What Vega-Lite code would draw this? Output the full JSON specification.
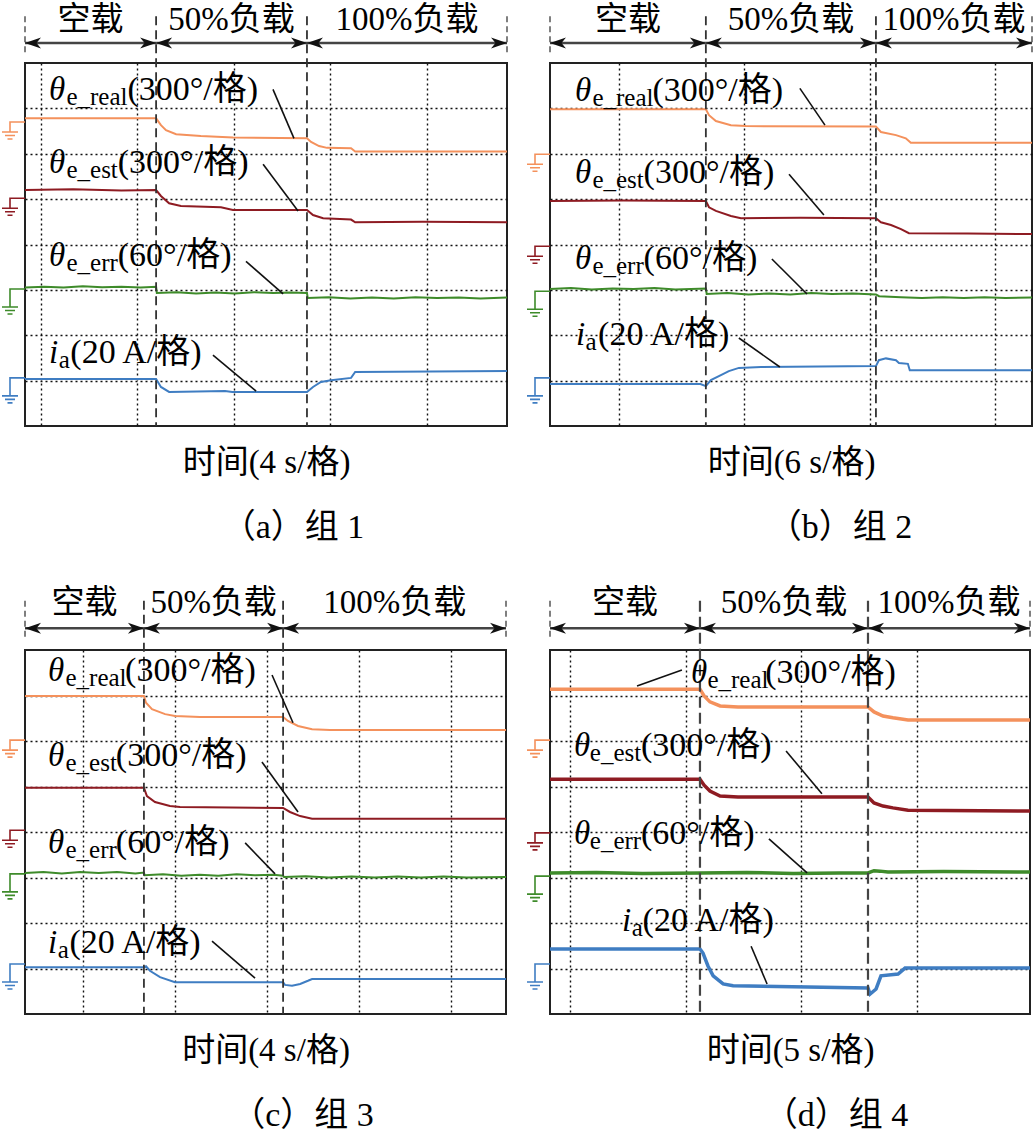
{
"$schema": "https://vega.github.io/schema/vega-lite/v6.json",
"padding": {"left": -3, "top": 3, "right": 0, "bottom": 0},
"background": "white",
"config": {
 "view": {"stroke": "#222", "strokeWidth": 2},
 "axis": {"gridColor": "#111", "gridDash": [2, 3], "gridWidth": 1.4, "gridOpacity": 1, "titleFont": "Liberation Serif, Noto Sans CJK SC", "titleFontSize": 33, "titleFontWeight": "normal", "titleColor": "#000", "titlePadding": 20},
 "axisY": {"minExtent": 0},
 "title": {"font": "Liberation Serif, Noto Sans CJK SC", "fontSize": 34, "fontWeight": "normal", "color": "#000", "orient": "bottom", "anchor": "middle", "offset": 32}
},
"datasets": {
 "tr": [
  {"p":"a","ch":"real","t":0,"d":6.78},{"p":"a","ch":"real","t":5.44,"d":6.78},{"p":"a","ch":"real","t":5.64,"d":6.63},{"p":"a","ch":"real","t":5.85,"d":6.52},{"p":"a","ch":"real","t":6.27,"d":6.43},{"p":"a","ch":"real","t":7.3,"d":6.39},{"p":"a","ch":"real","t":8.63,"d":6.36},{"p":"a","ch":"real","t":11.7,"d":6.34},{"p":"a","ch":"real","t":11.87,"d":6.26},{"p":"a","ch":"real","t":12.2,"d":6.17},{"p":"a","ch":"real","t":12.53,"d":6.13},{"p":"a","ch":"real","t":13.53,"d":6.12},{"p":"a","ch":"real","t":13.7,"d":6.05},{"p":"a","ch":"real","t":20,"d":6.05},
  {"p":"a","ch":"est","t":0,"d":5.2},{"p":"a","ch":"est","t":2.0,"d":5.22},{"p":"a","ch":"est","t":4.0,"d":5.19},{"p":"a","ch":"est","t":5.44,"d":5.2},{"p":"a","ch":"est","t":5.64,"d":5.07},{"p":"a","ch":"est","t":5.98,"d":4.91},{"p":"a","ch":"est","t":6.47,"d":4.85},{"p":"a","ch":"est","t":8.13,"d":4.82},{"p":"a","ch":"est","t":8.63,"d":4.76},{"p":"a","ch":"est","t":11.7,"d":4.76},{"p":"a","ch":"est","t":11.95,"d":4.65},{"p":"a","ch":"est","t":12.37,"d":4.58},{"p":"a","ch":"est","t":13.53,"d":4.55},{"p":"a","ch":"est","t":13.7,"d":4.49},{"p":"a","ch":"est","t":16.5,"d":4.5},{"p":"a","ch":"est","t":20,"d":4.49},
  {"p":"a","ch":"err","t":0,"d":3.05},{"p":"a","ch":"err","t":0.8,"d":3.07},{"p":"a","ch":"err","t":1.6,"d":3.05},{"p":"a","ch":"err","t":2.4,"d":3.08},{"p":"a","ch":"err","t":3.2,"d":3.06},{"p":"a","ch":"err","t":4.0,"d":3.07},{"p":"a","ch":"err","t":4.8,"d":3.05},{"p":"a","ch":"err","t":5.44,"d":3.07},{"p":"a","ch":"err","t":5.47,"d":2.93},{"p":"a","ch":"err","t":6.3,"d":2.95},{"p":"a","ch":"err","t":7.1,"d":2.92},{"p":"a","ch":"err","t":7.9,"d":2.94},{"p":"a","ch":"err","t":8.7,"d":2.92},{"p":"a","ch":"err","t":9.5,"d":2.95},{"p":"a","ch":"err","t":10.3,"d":2.93},{"p":"a","ch":"err","t":11.0,"d":2.94},{"p":"a","ch":"err","t":11.7,"d":2.93},{"p":"a","ch":"err","t":11.73,"d":2.82},{"p":"a","ch":"err","t":12.6,"d":2.84},{"p":"a","ch":"err","t":13.5,"d":2.81},{"p":"a","ch":"err","t":14.4,"d":2.83},{"p":"a","ch":"err","t":15.3,"d":2.81},{"p":"a","ch":"err","t":16.2,"d":2.84},{"p":"a","ch":"err","t":17.1,"d":2.82},{"p":"a","ch":"err","t":18.0,"d":2.83},{"p":"a","ch":"err","t":18.9,"d":2.81},{"p":"a","ch":"err","t":20,"d":2.83},
  {"p":"a","ch":"ia","t":0,"d":1.035},{"p":"a","ch":"ia","t":5.44,"d":1.035},{"p":"a","ch":"ia","t":5.64,"d":0.86},{"p":"a","ch":"ia","t":5.98,"d":0.75},{"p":"a","ch":"ia","t":8.3,"d":0.77},{"p":"a","ch":"ia","t":8.6,"d":0.75},{"p":"a","ch":"ia","t":11.7,"d":0.75},{"p":"a","ch":"ia","t":11.95,"d":0.86},{"p":"a","ch":"ia","t":12.28,"d":0.97},{"p":"a","ch":"ia","t":12.7,"d":1.01},{"p":"a","ch":"ia","t":13.53,"d":1.06},{"p":"a","ch":"ia","t":13.7,"d":1.19},{"p":"a","ch":"ia","t":20,"d":1.21},

  {"p":"b","ch":"real","t":0,"d":6.98},{"p":"b","ch":"real","t":7.46,"d":6.98},{"p":"b","ch":"real","t":7.61,"d":6.85},{"p":"b","ch":"real","t":7.94,"d":6.72},{"p":"b","ch":"real","t":8.66,"d":6.63},{"p":"b","ch":"real","t":9.38,"d":6.61},{"p":"b","ch":"real","t":15.6,"d":6.6},{"p":"b","ch":"real","t":15.84,"d":6.48},{"p":"b","ch":"real","t":16.56,"d":6.41},{"p":"b","ch":"real","t":17.03,"d":6.34},{"p":"b","ch":"real","t":17.27,"d":6.24},{"p":"b","ch":"real","t":23.07,"d":6.24},
  {"p":"b","ch":"est","t":0,"d":4.96},{"p":"b","ch":"est","t":3.5,"d":4.97},{"p":"b","ch":"est","t":7.46,"d":4.96},{"p":"b","ch":"est","t":7.61,"d":4.82},{"p":"b","ch":"est","t":7.94,"d":4.74},{"p":"b","ch":"est","t":8.66,"d":4.63},{"p":"b","ch":"est","t":9.14,"d":4.58},{"p":"b","ch":"est","t":12,"d":4.59},{"p":"b","ch":"est","t":15.6,"d":4.58},{"p":"b","ch":"est","t":15.84,"d":4.49},{"p":"b","ch":"est","t":16.32,"d":4.43},{"p":"b","ch":"est","t":16.8,"d":4.34},{"p":"b","ch":"est","t":17.18,"d":4.25},{"p":"b","ch":"est","t":20,"d":4.24},{"p":"b","ch":"est","t":23.07,"d":4.23},
  {"p":"b","ch":"err","t":0,"d":3.02},{"p":"b","ch":"err","t":1,"d":3.04},{"p":"b","ch":"err","t":2,"d":3.01},{"p":"b","ch":"err","t":3,"d":3.03},{"p":"b","ch":"err","t":4,"d":3.02},{"p":"b","ch":"err","t":5,"d":3.04},{"p":"b","ch":"err","t":6,"d":3.01},{"p":"b","ch":"err","t":7.46,"d":3.03},{"p":"b","ch":"err","t":7.5,"d":2.91},{"p":"b","ch":"err","t":8.5,"d":2.93},{"p":"b","ch":"err","t":9.5,"d":2.9},{"p":"b","ch":"err","t":10.5,"d":2.92},{"p":"b","ch":"err","t":11.5,"d":2.9},{"p":"b","ch":"err","t":12.5,"d":2.93},{"p":"b","ch":"err","t":13.5,"d":2.91},{"p":"b","ch":"err","t":14.5,"d":2.92},{"p":"b","ch":"err","t":15.6,"d":2.9},{"p":"b","ch":"err","t":15.75,"d":2.86},{"p":"b","ch":"err","t":16.8,"d":2.84},{"p":"b","ch":"err","t":17.8,"d":2.82},{"p":"b","ch":"err","t":18.8,"d":2.84},{"p":"b","ch":"err","t":19.8,"d":2.82},{"p":"b","ch":"err","t":20.8,"d":2.84},{"p":"b","ch":"err","t":21.8,"d":2.82},{"p":"b","ch":"err","t":23.07,"d":2.83},
  {"p":"b","ch":"ia","t":0,"d":0.925},{"p":"b","ch":"ia","t":7.2,"d":0.925},{"p":"b","ch":"ia","t":7.46,"d":0.88},{"p":"b","ch":"ia","t":7.7,"d":1.01},{"p":"b","ch":"ia","t":8.18,"d":1.12},{"p":"b","ch":"ia","t":8.56,"d":1.21},{"p":"b","ch":"ia","t":9.04,"d":1.28},{"p":"b","ch":"ia","t":10.1,"d":1.3},{"p":"b","ch":"ia","t":15.6,"d":1.32},{"p":"b","ch":"ia","t":15.74,"d":1.45},{"p":"b","ch":"ia","t":16.08,"d":1.49},{"p":"b","ch":"ia","t":16.56,"d":1.45},{"p":"b","ch":"ia","t":16.7,"d":1.39},{"p":"b","ch":"ia","t":17.13,"d":1.37},{"p":"b","ch":"ia","t":17.22,"d":1.23},{"p":"b","ch":"ia","t":23.07,"d":1.23},

  {"p":"c","ch":"real","t":0,"d":6.99},{"p":"c","ch":"real","t":5.17,"d":6.99},{"p":"c","ch":"real","t":5.26,"d":6.84},{"p":"c","ch":"real","t":5.52,"d":6.7},{"p":"c","ch":"real","t":6.09,"d":6.59},{"p":"c","ch":"real","t":6.52,"d":6.55},{"p":"c","ch":"real","t":7.6,"d":6.53},{"p":"c","ch":"real","t":11.22,"d":6.53},{"p":"c","ch":"real","t":11.43,"d":6.44},{"p":"c","ch":"real","t":11.87,"d":6.33},{"p":"c","ch":"real","t":12.48,"d":6.26},{"p":"c","ch":"real","t":13.26,"d":6.24},{"p":"c","ch":"real","t":20.91,"d":6.24},
  {"p":"c","ch":"est","t":0,"d":4.97},{"p":"c","ch":"est","t":5.17,"d":4.97},{"p":"c","ch":"est","t":5.3,"d":4.79},{"p":"c","ch":"est","t":5.65,"d":4.66},{"p":"c","ch":"est","t":6.3,"d":4.57},{"p":"c","ch":"est","t":6.74,"d":4.55},{"p":"c","ch":"est","t":11.22,"d":4.53},{"p":"c","ch":"est","t":11.52,"d":4.44},{"p":"c","ch":"est","t":11.96,"d":4.35},{"p":"c","ch":"est","t":12.48,"d":4.29},{"p":"c","ch":"est","t":20.91,"d":4.29},
  {"p":"c","ch":"err","t":0,"d":3.1},{"p":"c","ch":"err","t":0.8,"d":3.12},{"p":"c","ch":"err","t":1.6,"d":3.09},{"p":"c","ch":"err","t":2.4,"d":3.12},{"p":"c","ch":"err","t":3.2,"d":3.1},{"p":"c","ch":"err","t":4.0,"d":3.12},{"p":"c","ch":"err","t":4.8,"d":3.09},{"p":"c","ch":"err","t":5.17,"d":3.11},{"p":"c","ch":"err","t":5.2,"d":3.05},{"p":"c","ch":"err","t":6.0,"d":3.07},{"p":"c","ch":"err","t":6.8,"d":3.04},{"p":"c","ch":"err","t":7.6,"d":3.06},{"p":"c","ch":"err","t":8.4,"d":3.04},{"p":"c","ch":"err","t":9.2,"d":3.07},{"p":"c","ch":"err","t":10,"d":3.05},{"p":"c","ch":"err","t":10.8,"d":3.06},{"p":"c","ch":"err","t":11.22,"d":3.04},{"p":"c","ch":"err","t":11.26,"d":3.01},{"p":"c","ch":"err","t":12.2,"d":3.03},{"p":"c","ch":"err","t":13.2,"d":3.0},{"p":"c","ch":"err","t":14.2,"d":3.02},{"p":"c","ch":"err","t":15.2,"d":3.0},{"p":"c","ch":"err","t":16.2,"d":3.02},{"p":"c","ch":"err","t":17.2,"d":3.0},{"p":"c","ch":"err","t":18.2,"d":3.02},{"p":"c","ch":"err","t":19.2,"d":3.0},{"p":"c","ch":"err","t":20.91,"d":3.01},
  {"p":"c","ch":"ia","t":0,"d":1.03},{"p":"c","ch":"ia","t":5.17,"d":1.03},{"p":"c","ch":"ia","t":5.26,"d":1.05},{"p":"c","ch":"ia","t":5.43,"d":0.95},{"p":"c","ch":"ia","t":5.87,"d":0.81},{"p":"c","ch":"ia","t":6.52,"d":0.7},{"p":"c","ch":"ia","t":11.22,"d":0.7},{"p":"c","ch":"ia","t":11.3,"d":0.64},{"p":"c","ch":"ia","t":11.61,"d":0.62},{"p":"c","ch":"ia","t":11.96,"d":0.66},{"p":"c","ch":"ia","t":12.3,"d":0.73},{"p":"c","ch":"ia","t":12.48,"d":0.77},{"p":"c","ch":"ia","t":20.91,"d":0.77},

  {"p":"d","ch":"real","t":0,"d":7.14},{"p":"d","ch":"real","t":6.48,"d":7.14},{"p":"d","ch":"real","t":6.66,"d":6.99},{"p":"d","ch":"real","t":6.91,"d":6.86},{"p":"d","ch":"real","t":7.35,"d":6.77},{"p":"d","ch":"real","t":8.12,"d":6.75},{"p":"d","ch":"real","t":13.74,"d":6.75},{"p":"d","ch":"real","t":14.0,"d":6.64},{"p":"d","ch":"real","t":14.39,"d":6.55},{"p":"d","ch":"real","t":14.82,"d":6.51},{"p":"d","ch":"real","t":15.47,"d":6.46},{"p":"d","ch":"real","t":20.74,"d":6.46},
  {"p":"d","ch":"est","t":0,"d":5.16},{"p":"d","ch":"est","t":6.48,"d":5.16},{"p":"d","ch":"est","t":6.66,"d":5.03},{"p":"d","ch":"est","t":6.91,"d":4.9},{"p":"d","ch":"est","t":7.35,"d":4.79},{"p":"d","ch":"est","t":8.12,"d":4.77},{"p":"d","ch":"est","t":13.74,"d":4.77},{"p":"d","ch":"est","t":14.0,"d":4.64},{"p":"d","ch":"est","t":14.39,"d":4.57},{"p":"d","ch":"est","t":14.82,"d":4.53},{"p":"d","ch":"est","t":15.47,"d":4.48},{"p":"d","ch":"est","t":20.74,"d":4.46},
  {"p":"d","ch":"err","t":0,"d":3.1},{"p":"d","ch":"err","t":2,"d":3.11},{"p":"d","ch":"err","t":4,"d":3.09},{"p":"d","ch":"err","t":6.48,"d":3.1},{"p":"d","ch":"err","t":8.5,"d":3.11},{"p":"d","ch":"err","t":10.5,"d":3.09},{"p":"d","ch":"err","t":12.5,"d":3.1},{"p":"d","ch":"err","t":13.74,"d":3.1},{"p":"d","ch":"err","t":14.0,"d":3.15},{"p":"d","ch":"err","t":14.26,"d":3.14},{"p":"d","ch":"err","t":14.6,"d":3.12},{"p":"d","ch":"err","t":17,"d":3.13},{"p":"d","ch":"err","t":20.74,"d":3.12},
  {"p":"d","ch":"ia","t":0,"d":1.43},{"p":"d","ch":"ia","t":6.48,"d":1.43},{"p":"d","ch":"ia","t":6.61,"d":1.34},{"p":"d","ch":"ia","t":6.83,"d":1.05},{"p":"d","ch":"ia","t":7.05,"d":0.84},{"p":"d","ch":"ia","t":7.48,"d":0.66},{"p":"d","ch":"ia","t":7.91,"d":0.62},{"p":"d","ch":"ia","t":13.74,"d":0.57},{"p":"d","ch":"ia","t":13.83,"d":0.44},{"p":"d","ch":"ia","t":14.09,"d":0.55},{"p":"d","ch":"ia","t":14.3,"d":0.84},{"p":"d","ch":"ia","t":15.04,"d":0.88},{"p":"d","ch":"ia","t":15.34,"d":1.01},{"p":"d","ch":"ia","t":20.74,"d":1.01}
 ],
 "gnd": [
  {"p":"a","ch":"real","t":0,"d":6.7},{"p":"a","ch":"est","t":0,"d":5.02},{"p":"a","ch":"err","t":0,"d":3.02},{"p":"a","ch":"ia","t":0,"d":1.06},
  {"p":"b","ch":"real","t":0,"d":5.99},{"p":"b","ch":"est","t":0,"d":3.96},{"p":"b","ch":"err","t":0,"d":2.97},{"p":"b","ch":"ia","t":0,"d":1.06},
  {"p":"c","ch":"real","t":0,"d":6.02},{"p":"c","ch":"est","t":0,"d":4.04},{"p":"c","ch":"err","t":0,"d":3.08},{"p":"c","ch":"ia","t":0,"d":1.1},
  {"p":"d","ch":"real","t":0,"d":6.02},{"p":"d","ch":"est","t":0,"d":3.98},{"p":"d","ch":"err","t":0,"d":3.03},{"p":"d","ch":"ia","t":0,"d":1.1}
 ],
 "sep": [
  {"p":"a","kind":"edge","t":0,"d1":9.03,"d2":8.22},{"p":"a","kind":"edge","t":20,"d1":9.03,"d2":8.22},{"p":"a","kind":"sw","t":5.44,"d1":9.03,"d2":0},{"p":"a","kind":"sw","t":11.7,"d1":9.03,"d2":0},
  {"p":"b","kind":"edge","t":0,"d1":9.03,"d2":8.22},{"p":"b","kind":"edge","t":23.07,"d1":9.03,"d2":8.22},{"p":"b","kind":"sw","t":7.46,"d1":9.03,"d2":0},{"p":"b","kind":"sw","t":15.6,"d1":9.03,"d2":0},
  {"p":"c","kind":"edge","t":0,"d1":9.08,"d2":8.24},{"p":"c","kind":"edge","t":20.91,"d1":9.08,"d2":8.24},{"p":"c","kind":"sw","t":5.17,"d1":9.08,"d2":0},{"p":"c","kind":"sw","t":11.22,"d1":9.08,"d2":0},
  {"p":"d","kind":"edge","t":0,"d1":9.08,"d2":8.24},{"p":"d","kind":"edge","t":20.74,"d1":9.08,"d2":8.24},{"p":"d","kind":"sw","t":6.48,"d1":9.08,"d2":0},{"p":"d","kind":"sw","t":13.74,"d1":9.08,"d2":0}
 ],
 "arr": [
  {"p":"a","t1":0,"t2":5.44,"d":8.44},{"p":"a","t1":5.44,"t2":11.7,"d":8.44},{"p":"a","t1":11.7,"t2":20,"d":8.44},
  {"p":"b","t1":0,"t2":7.46,"d":8.44},{"p":"b","t1":7.46,"t2":15.6,"d":8.44},{"p":"b","t1":15.6,"t2":23.07,"d":8.44},
  {"p":"c","t1":0,"t2":5.17,"d":8.48},{"p":"c","t1":5.17,"t2":11.22,"d":8.48},{"p":"c","t1":11.22,"t2":20.91,"d":8.48},
  {"p":"d","t1":0,"t2":6.48,"d":8.48},{"p":"d","t1":6.48,"t2":13.74,"d":8.48},{"p":"d","t1":13.74,"t2":20.74,"d":8.48}
 ],
 "hdr": [
  {"p":"a","t":2.72,"d":8.94,"text":"空载"},{"p":"a","t":8.57,"d":8.94,"text":"50%负载"},{"p":"a","t":15.85,"d":8.94,"text":"100%负载"},
  {"p":"b","t":3.73,"d":8.94,"text":"空载"},{"p":"b","t":11.53,"d":8.94,"text":"50%负载"},{"p":"b","t":19.34,"d":8.94,"text":"100%负载"},
  {"p":"c","t":2.59,"d":9.03,"text":"空载"},{"p":"c","t":8.2,"d":9.03,"text":"50%负载"},{"p":"c","t":16.07,"d":9.03,"text":"100%负载"},
  {"p":"d","t":3.24,"d":9.03,"text":"空载"},{"p":"d","t":10.11,"d":9.03,"text":"50%负载"},{"p":"d","t":17.24,"d":9.03,"text":"100%负载"}
 ],
 "lab": [
  {"p":"a","kind":"sym","t":1.0,"d":7.18,"text":"θ"},{"p":"a","kind":"sub","t":1.72,"d":7.07,"text":"e_real"},{"p":"a","kind":"txt","t":4.25,"d":7.18,"text":"(300°/格)"},
  {"p":"a","kind":"sym","t":1.0,"d":5.57,"text":"θ"},{"p":"a","kind":"sub","t":1.72,"d":5.46,"text":"e_est"},{"p":"a","kind":"txt","t":3.85,"d":5.57,"text":"(300°/格)"},
  {"p":"a","kind":"sym","t":1.0,"d":3.52,"text":"θ"},{"p":"a","kind":"sub","t":1.72,"d":3.41,"text":"e_err"},{"p":"a","kind":"txt","t":3.85,"d":3.52,"text":"(60°/格)"},
  {"p":"a","kind":"sym","t":1.0,"d":1.39,"text":"i"},{"p":"a","kind":"sub","t":1.4,"d":1.28,"text":"a"},{"p":"a","kind":"txt","t":1.88,"d":1.39,"text":"(20 A/格)"},
  {"p":"b","kind":"sym","t":1.2,"d":7.16,"text":"θ"},{"p":"b","kind":"sub","t":2.03,"d":7.05,"text":"e_real"},{"p":"b","kind":"txt","t":4.9,"d":7.16,"text":"(300°/格)"},
  {"p":"b","kind":"sym","t":1.2,"d":5.35,"text":"θ"},{"p":"b","kind":"sub","t":2.03,"d":5.24,"text":"e_est"},{"p":"b","kind":"txt","t":4.48,"d":5.35,"text":"(300°/格)"},
  {"p":"b","kind":"sym","t":1.2,"d":3.46,"text":"θ"},{"p":"b","kind":"sub","t":2.03,"d":3.35,"text":"e_err"},{"p":"b","kind":"txt","t":4.48,"d":3.46,"text":"(60°/格)"},
  {"p":"b","kind":"sym","t":1.24,"d":1.78,"text":"i"},{"p":"b","kind":"sub","t":1.7,"d":1.67,"text":"a"},{"p":"b","kind":"txt","t":2.3,"d":1.78,"text":"(20 A/格)"},
  {"p":"c","kind":"sym","t":1.0,"d":7.32,"text":"θ"},{"p":"c","kind":"sub","t":1.76,"d":7.21,"text":"e_real"},{"p":"c","kind":"txt","t":4.35,"d":7.32,"text":"(300°/格)"},
  {"p":"c","kind":"sym","t":1.0,"d":5.45,"text":"θ"},{"p":"c","kind":"sub","t":1.76,"d":5.34,"text":"e_est"},{"p":"c","kind":"txt","t":3.95,"d":5.45,"text":"(300°/格)"},
  {"p":"c","kind":"sym","t":1.0,"d":3.54,"text":"θ"},{"p":"c","kind":"sub","t":1.76,"d":3.43,"text":"e_err"},{"p":"c","kind":"txt","t":3.95,"d":3.54,"text":"(60°/格)"},
  {"p":"c","kind":"sym","t":1.0,"d":1.34,"text":"i"},{"p":"c","kind":"sub","t":1.42,"d":1.23,"text":"a"},{"p":"c","kind":"txt","t":1.93,"d":1.34,"text":"(20 A/格)"},
  {"p":"d","kind":"sym","t":6.09,"d":7.27,"text":"θ"},{"p":"d","kind":"sub","t":6.8,"d":7.16,"text":"e_real"},{"p":"d","kind":"txt","t":9.3,"d":7.27,"text":"(300°/格)"},
  {"p":"d","kind":"sym","t":1.04,"d":5.67,"text":"θ"},{"p":"d","kind":"sub","t":1.72,"d":5.56,"text":"e_est"},{"p":"d","kind":"txt","t":3.93,"d":5.67,"text":"(300°/格)"},
  {"p":"d","kind":"sym","t":1.04,"d":3.74,"text":"θ"},{"p":"d","kind":"sub","t":1.72,"d":3.63,"text":"e_err"},{"p":"d","kind":"txt","t":3.93,"d":3.74,"text":"(60°/格)"},
  {"p":"d","kind":"sym","t":3.11,"d":1.82,"text":"i"},{"p":"d","kind":"sub","t":3.53,"d":1.71,"text":"a"},{"p":"d","kind":"txt","t":4.0,"d":1.82,"text":"(20 A/格)"}
 ],
 "lead": [
  {"p":"a","t1":10.29,"d1":7.42,"t2":11.16,"d2":6.34},{"p":"a","t1":9.88,"d1":5.77,"t2":11.33,"d2":4.74},{"p":"a","t1":9.17,"d1":3.63,"t2":10.71,"d2":2.91},{"p":"a","t1":7.8,"d1":1.56,"t2":9.59,"d2":0.77},
  {"p":"b","t1":11.96,"d1":7.44,"t2":13.16,"d2":6.63},{"p":"b","t1":11.44,"d1":5.55,"t2":13.11,"d2":4.65},{"p":"b","t1":10.62,"d1":3.68,"t2":12.3,"d2":2.91},{"p":"b","t1":9.04,"d1":1.94,"t2":11.0,"d2":1.3},
  {"p":"c","t1":10.74,"d1":7.45,"t2":11.65,"d2":6.4},{"p":"c","t1":10.3,"d1":5.54,"t2":11.87,"d2":4.44},{"p":"c","t1":9.57,"d1":3.76,"t2":10.87,"d2":3.08},{"p":"c","t1":8.13,"d1":1.6,"t2":10.0,"d2":0.79},
  {"p":"d","t1":3.76,"d1":7.21,"t2":5.7,"d2":7.56},{"p":"d","t1":10.2,"d1":5.78,"t2":11.75,"d2":4.84},{"p":"d","t1":9.46,"d1":3.85,"t2":11.11,"d2":3.1},{"p":"d","t1":8.69,"d1":1.49,"t2":9.38,"d2":0.66}
 ]
},
"columns": 2,
"spacing": {"row": 224, "column": 43},
"bounds": "flush",
"concat": [
 {"width": 482, "height": 363,
  "title": {"text": "（a）组 1", "dx": 27},
  "layer": [
   {"data": {"name": "tr"}, "transform": [{"filter": "datum.p == 'a'"}],
    "mark": {"type": "line", "strokeWidth": 2},
    "encoding": {
     "x": {"field": "t", "type": "quantitative", "scale": {"domain": [0, 20], "nice": false, "zero": false}, "axis": {"values": [0.665, 4.665, 8.665, 12.665, 16.665], "grid": true, "domain": false, "ticks": false, "labels": false, "title": "时间(4 s/格)"}},
     "y": {"field": "d", "type": "quantitative", "scale": {"domain": [0, 8], "nice": false, "zero": false}, "axis": {"values": [1, 2, 3, 4, 5, 6, 7], "grid": true, "domain": false, "ticks": false, "labels": false, "title": null}},
     "color": {"field": "ch", "type": "nominal", "scale": {"domain": ["real", "est", "err", "ia"], "range": ["#F4915C", "#8E1B22", "#3E8B2A", "#3F7DC2"]}, "legend": null}}},
   {"data": {"name": "gnd"}, "transform": [{"filter": "datum.p == 'a' && (datum.ch == 'real' || datum.ch == 'est')"}],
    "mark": {"type": "point", "filled": false, "opacity": 1, "size": 400, "strokeWidth": 1.6, "shape": "M0,0H-1.5V1M-2.3,1H-0.7M-2,1.35H-1M-1.75,1.7H-1.25"},
    "encoding": {"x": {"field": "t", "type": "quantitative"}, "y": {"field": "d", "type": "quantitative"}, "color": {"field": "ch", "type": "nominal", "legend": null}}},
   {"data": {"name": "gnd"}, "transform": [{"filter": "datum.p == 'a' && (datum.ch == 'err' || datum.ch == 'ia')"}],
    "mark": {"type": "point", "filled": false, "opacity": 1, "size": 400, "strokeWidth": 1.6, "shape": "M0,0H-1.5V1.8M-2.3,1.8H-0.7M-2,2.15H-1M-1.75,2.5H-1.25"},
    "encoding": {"x": {"field": "t", "type": "quantitative"}, "y": {"field": "d", "type": "quantitative"}, "color": {"field": "ch", "type": "nominal", "legend": null}}},
   {"data": {"name": "sep"}, "transform": [{"filter": "datum.p == 'a' && datum.kind == 'sw'"}],
    "mark": {"type": "rule", "color": "#333", "strokeWidth": 1.8, "strokeDash": [9, 5]},
    "encoding": {"x": {"field": "t", "type": "quantitative"}, "y": {"field": "d1", "type": "quantitative"}, "y2": {"field": "d2"}}},
   {"data": {"name": "sep"}, "transform": [{"filter": "datum.p == 'a' && datum.kind == 'edge'"}],
    "mark": {"type": "rule", "color": "#555", "strokeWidth": 1.5, "strokeDash": [6, 4]},
    "encoding": {"x": {"field": "t", "type": "quantitative"}, "y": {"field": "d1", "type": "quantitative"}, "y2": {"field": "d2"}}},
   {"data": {"name": "arr"}, "transform": [{"filter": "datum.p == 'a'"}],
    "mark": {"type": "rule", "color": "#444", "strokeWidth": 2.5},
    "encoding": {"x": {"field": "t1", "type": "quantitative"}, "x2": {"field": "t2"}, "y": {"field": "d", "type": "quantitative"}}},
   {"data": {"name": "arr"}, "transform": [{"filter": "datum.p == 'a'"}],
    "mark": {"type": "point", "filled": true, "opacity": 1, "color": "#111", "size": 400, "shape": "M0,0L1.6,-0.55L1.15,0L1.6,0.55Z"},
    "encoding": {"x": {"field": "t1", "type": "quantitative"}, "y": {"field": "d", "type": "quantitative"}}},
   {"data": {"name": "arr"}, "transform": [{"filter": "datum.p == 'a'"}],
    "mark": {"type": "point", "filled": true, "opacity": 1, "color": "#111", "size": 400, "shape": "M0,0L-1.6,-0.55L-1.15,0L-1.6,0.55Z"},
    "encoding": {"x": {"field": "t2", "type": "quantitative"}, "y": {"field": "d", "type": "quantitative"}}},
   {"data": {"name": "hdr"}, "transform": [{"filter": "datum.p == 'a'"}],
    "mark": {"type": "text", "font": "Liberation Serif, Noto Sans CJK SC", "fontSize": 33, "align": "center", "baseline": "middle", "color": "#000"},
    "encoding": {"x": {"field": "t", "type": "quantitative"}, "y": {"field": "d", "type": "quantitative"}, "text": {"field": "text"}}},
   {"data": {"name": "lab"}, "transform": [{"filter": "datum.p == 'a' && datum.kind == 'sym'"}],
    "mark": {"type": "text", "font": "Liberation Serif", "fontStyle": "italic", "fontSize": 33, "align": "left", "baseline": "alphabetic", "color": "#000"},
    "encoding": {"x": {"field": "t", "type": "quantitative"}, "y": {"field": "d", "type": "quantitative"}, "text": {"field": "text"}}},
   {"data": {"name": "lab"}, "transform": [{"filter": "datum.p == 'a' && datum.kind == 'sub'"}],
    "mark": {"type": "text", "font": "Liberation Serif", "fontSize": 25, "align": "left", "baseline": "alphabetic", "color": "#000"},
    "encoding": {"x": {"field": "t", "type": "quantitative"}, "y": {"field": "d", "type": "quantitative"}, "text": {"field": "text"}}},
   {"data": {"name": "lab"}, "transform": [{"filter": "datum.p == 'a' && datum.kind == 'txt'"}],
    "mark": {"type": "text", "font": "Liberation Serif, Noto Sans CJK SC", "fontSize": 34, "align": "left", "baseline": "alphabetic", "color": "#000"},
    "encoding": {"x": {"field": "t", "type": "quantitative"}, "y": {"field": "d", "type": "quantitative"}, "text": {"field": "text"}}},
   {"data": {"name": "lead"}, "transform": [{"filter": "datum.p == 'a'"}],
    "mark": {"type": "rule", "color": "#111", "strokeWidth": 1.6},
    "encoding": {"x": {"field": "t1", "type": "quantitative"}, "x2": {"field": "t2"}, "y": {"field": "d1", "type": "quantitative"}, "y2": {"field": "d2"}}}
  ]},
 {"width": 482, "height": 363,
  "title": {"text": "（b）组 2", "dx": 49},
  "layer": [
   {"data": {"name": "tr"}, "transform": [{"filter": "datum.p == 'b'"}],
    "mark": {"type": "line", "strokeWidth": 2},
    "encoding": {
     "x": {"field": "t", "type": "quantitative", "scale": {"domain": [0, 23.07], "nice": false, "zero": false}, "axis": {"values": [3.3, 9.3, 15.3, 21.3], "grid": true, "domain": false, "ticks": false, "labels": false, "title": "时间(6 s/格)"}},
     "y": {"field": "d", "type": "quantitative", "scale": {"domain": [0, 8], "nice": false, "zero": false}, "axis": {"values": [1, 2, 3, 4, 5, 6, 7], "grid": true, "domain": false, "ticks": false, "labels": false, "title": null}},
     "color": {"field": "ch", "type": "nominal", "scale": {"domain": ["real", "est", "err", "ia"], "range": ["#F4915C", "#8E1B22", "#3E8B2A", "#3F7DC2"]}, "legend": null}}},
   {"data": {"name": "gnd"}, "transform": [{"filter": "datum.p == 'b' && (datum.ch == 'real' || datum.ch == 'est')"}],
    "mark": {"type": "point", "filled": false, "opacity": 1, "size": 400, "strokeWidth": 1.6, "shape": "M0,0H-1.5V1M-2.3,1H-0.7M-2,1.35H-1M-1.75,1.7H-1.25"},
    "encoding": {"x": {"field": "t", "type": "quantitative"}, "y": {"field": "d", "type": "quantitative"}, "color": {"field": "ch", "type": "nominal", "legend": null}}},
   {"data": {"name": "gnd"}, "transform": [{"filter": "datum.p == 'b' && (datum.ch == 'err' || datum.ch == 'ia')"}],
    "mark": {"type": "point", "filled": false, "opacity": 1, "size": 400, "strokeWidth": 1.6, "shape": "M0,0H-1.5V1.8M-2.3,1.8H-0.7M-2,2.15H-1M-1.75,2.5H-1.25"},
    "encoding": {"x": {"field": "t", "type": "quantitative"}, "y": {"field": "d", "type": "quantitative"}, "color": {"field": "ch", "type": "nominal", "legend": null}}},
   {"data": {"name": "sep"}, "transform": [{"filter": "datum.p == 'b' && datum.kind == 'sw'"}],
    "mark": {"type": "rule", "color": "#333", "strokeWidth": 1.8, "strokeDash": [9, 5]},
    "encoding": {"x": {"field": "t", "type": "quantitative"}, "y": {"field": "d1", "type": "quantitative"}, "y2": {"field": "d2"}}},
   {"data": {"name": "sep"}, "transform": [{"filter": "datum.p == 'b' && datum.kind == 'edge'"}],
    "mark": {"type": "rule", "color": "#555", "strokeWidth": 1.5, "strokeDash": [6, 4]},
    "encoding": {"x": {"field": "t", "type": "quantitative"}, "y": {"field": "d1", "type": "quantitative"}, "y2": {"field": "d2"}}},
   {"data": {"name": "arr"}, "transform": [{"filter": "datum.p == 'b'"}],
    "mark": {"type": "rule", "color": "#444", "strokeWidth": 2.5},
    "encoding": {"x": {"field": "t1", "type": "quantitative"}, "x2": {"field": "t2"}, "y": {"field": "d", "type": "quantitative"}}},
   {"data": {"name": "arr"}, "transform": [{"filter": "datum.p == 'b'"}],
    "mark": {"type": "point", "filled": true, "opacity": 1, "color": "#111", "size": 400, "shape": "M0,0L1.6,-0.55L1.15,0L1.6,0.55Z"},
    "encoding": {"x": {"field": "t1", "type": "quantitative"}, "y": {"field": "d", "type": "quantitative"}}},
   {"data": {"name": "arr"}, "transform": [{"filter": "datum.p == 'b'"}],
    "mark": {"type": "point", "filled": true, "opacity": 1, "color": "#111", "size": 400, "shape": "M0,0L-1.6,-0.55L-1.15,0L-1.6,0.55Z"},
    "encoding": {"x": {"field": "t2", "type": "quantitative"}, "y": {"field": "d", "type": "quantitative"}}},
   {"data": {"name": "hdr"}, "transform": [{"filter": "datum.p == 'b'"}],
    "mark": {"type": "text", "font": "Liberation Serif, Noto Sans CJK SC", "fontSize": 33, "align": "center", "baseline": "middle", "color": "#000"},
    "encoding": {"x": {"field": "t", "type": "quantitative"}, "y": {"field": "d", "type": "quantitative"}, "text": {"field": "text"}}},
   {"data": {"name": "lab"}, "transform": [{"filter": "datum.p == 'b' && datum.kind == 'sym'"}],
    "mark": {"type": "text", "font": "Liberation Serif", "fontStyle": "italic", "fontSize": 33, "align": "left", "baseline": "alphabetic", "color": "#000"},
    "encoding": {"x": {"field": "t", "type": "quantitative"}, "y": {"field": "d", "type": "quantitative"}, "text": {"field": "text"}}},
   {"data": {"name": "lab"}, "transform": [{"filter": "datum.p == 'b' && datum.kind == 'sub'"}],
    "mark": {"type": "text", "font": "Liberation Serif", "fontSize": 25, "align": "left", "baseline": "alphabetic", "color": "#000"},
    "encoding": {"x": {"field": "t", "type": "quantitative"}, "y": {"field": "d", "type": "quantitative"}, "text": {"field": "text"}}},
   {"data": {"name": "lab"}, "transform": [{"filter": "datum.p == 'b' && datum.kind == 'txt'"}],
    "mark": {"type": "text", "font": "Liberation Serif, Noto Sans CJK SC", "fontSize": 34, "align": "left", "baseline": "alphabetic", "color": "#000"},
    "encoding": {"x": {"field": "t", "type": "quantitative"}, "y": {"field": "d", "type": "quantitative"}, "text": {"field": "text"}}},
   {"data": {"name": "lead"}, "transform": [{"filter": "datum.p == 'b'"}],
    "mark": {"type": "rule", "color": "#111", "strokeWidth": 1.6},
    "encoding": {"x": {"field": "t1", "type": "quantitative"}, "x2": {"field": "t2"}, "y": {"field": "d1", "type": "quantitative"}, "y2": {"field": "d2"}}}
  ]},
 {"width": 481, "height": 364,
  "title": {"text": "（c）组 3", "dx": 37},
  "layer": [
   {"data": {"name": "tr"}, "transform": [{"filter": "datum.p == 'c'"}],
    "mark": {"type": "line", "strokeWidth": 2},
    "encoding": {
     "x": {"field": "t", "type": "quantitative", "scale": {"domain": [0, 20.91], "nice": false, "zero": false}, "axis": {"values": [2.52, 6.52, 10.52, 14.52, 18.52], "grid": true, "domain": false, "ticks": false, "labels": false, "title": "时间(4 s/格)"}},
     "y": {"field": "d", "type": "quantitative", "scale": {"domain": [0, 8], "nice": false, "zero": false}, "axis": {"values": [1, 2, 3, 4, 5, 6, 7], "grid": true, "domain": false, "ticks": false, "labels": false, "title": null}},
     "color": {"field": "ch", "type": "nominal", "scale": {"domain": ["real", "est", "err", "ia"], "range": ["#F4915C", "#8E1B22", "#3E8B2A", "#3F7DC2"]}, "legend": null}}},
   {"data": {"name": "gnd"}, "transform": [{"filter": "datum.p == 'c' && (datum.ch == 'real' || datum.ch == 'est')"}],
    "mark": {"type": "point", "filled": false, "opacity": 1, "size": 400, "strokeWidth": 1.6, "shape": "M0,0H-1.5V1M-2.3,1H-0.7M-2,1.35H-1M-1.75,1.7H-1.25"},
    "encoding": {"x": {"field": "t", "type": "quantitative"}, "y": {"field": "d", "type": "quantitative"}, "color": {"field": "ch", "type": "nominal", "legend": null}}},
   {"data": {"name": "gnd"}, "transform": [{"filter": "datum.p == 'c' && (datum.ch == 'err' || datum.ch == 'ia')"}],
    "mark": {"type": "point", "filled": false, "opacity": 1, "size": 400, "strokeWidth": 1.6, "shape": "M0,0H-1.5V1.8M-2.3,1.8H-0.7M-2,2.15H-1M-1.75,2.5H-1.25"},
    "encoding": {"x": {"field": "t", "type": "quantitative"}, "y": {"field": "d", "type": "quantitative"}, "color": {"field": "ch", "type": "nominal", "legend": null}}},
   {"data": {"name": "sep"}, "transform": [{"filter": "datum.p == 'c' && datum.kind == 'sw'"}],
    "mark": {"type": "rule", "color": "#333", "strokeWidth": 1.8, "strokeDash": [9, 5]},
    "encoding": {"x": {"field": "t", "type": "quantitative"}, "y": {"field": "d1", "type": "quantitative"}, "y2": {"field": "d2"}}},
   {"data": {"name": "sep"}, "transform": [{"filter": "datum.p == 'c' && datum.kind == 'edge'"}],
    "mark": {"type": "rule", "color": "#555", "strokeWidth": 1.5, "strokeDash": [6, 4]},
    "encoding": {"x": {"field": "t", "type": "quantitative"}, "y": {"field": "d1", "type": "quantitative"}, "y2": {"field": "d2"}}},
   {"data": {"name": "arr"}, "transform": [{"filter": "datum.p == 'c'"}],
    "mark": {"type": "rule", "color": "#444", "strokeWidth": 2.5},
    "encoding": {"x": {"field": "t1", "type": "quantitative"}, "x2": {"field": "t2"}, "y": {"field": "d", "type": "quantitative"}}},
   {"data": {"name": "arr"}, "transform": [{"filter": "datum.p == 'c'"}],
    "mark": {"type": "point", "filled": true, "opacity": 1, "color": "#111", "size": 400, "shape": "M0,0L1.6,-0.55L1.15,0L1.6,0.55Z"},
    "encoding": {"x": {"field": "t1", "type": "quantitative"}, "y": {"field": "d", "type": "quantitative"}}},
   {"data": {"name": "arr"}, "transform": [{"filter": "datum.p == 'c'"}],
    "mark": {"type": "point", "filled": true, "opacity": 1, "color": "#111", "size": 400, "shape": "M0,0L-1.6,-0.55L-1.15,0L-1.6,0.55Z"},
    "encoding": {"x": {"field": "t2", "type": "quantitative"}, "y": {"field": "d", "type": "quantitative"}}},
   {"data": {"name": "hdr"}, "transform": [{"filter": "datum.p == 'c'"}],
    "mark": {"type": "text", "font": "Liberation Serif, Noto Sans CJK SC", "fontSize": 33, "align": "center", "baseline": "middle", "color": "#000"},
    "encoding": {"x": {"field": "t", "type": "quantitative"}, "y": {"field": "d", "type": "quantitative"}, "text": {"field": "text"}}},
   {"data": {"name": "lab"}, "transform": [{"filter": "datum.p == 'c' && datum.kind == 'sym'"}],
    "mark": {"type": "text", "font": "Liberation Serif", "fontStyle": "italic", "fontSize": 33, "align": "left", "baseline": "alphabetic", "color": "#000"},
    "encoding": {"x": {"field": "t", "type": "quantitative"}, "y": {"field": "d", "type": "quantitative"}, "text": {"field": "text"}}},
   {"data": {"name": "lab"}, "transform": [{"filter": "datum.p == 'c' && datum.kind == 'sub'"}],
    "mark": {"type": "text", "font": "Liberation Serif", "fontSize": 25, "align": "left", "baseline": "alphabetic", "color": "#000"},
    "encoding": {"x": {"field": "t", "type": "quantitative"}, "y": {"field": "d", "type": "quantitative"}, "text": {"field": "text"}}},
   {"data": {"name": "lab"}, "transform": [{"filter": "datum.p == 'c' && datum.kind == 'txt'"}],
    "mark": {"type": "text", "font": "Liberation Serif, Noto Sans CJK SC", "fontSize": 34, "align": "left", "baseline": "alphabetic", "color": "#000"},
    "encoding": {"x": {"field": "t", "type": "quantitative"}, "y": {"field": "d", "type": "quantitative"}, "text": {"field": "text"}}},
   {"data": {"name": "lead"}, "transform": [{"filter": "datum.p == 'c'"}],
    "mark": {"type": "rule", "color": "#111", "strokeWidth": 1.6},
    "encoding": {"x": {"field": "t1", "type": "quantitative"}, "x2": {"field": "t2"}, "y": {"field": "d1", "type": "quantitative"}, "y2": {"field": "d2"}}}
  ]},
 {"width": 480, "height": 364,
  "title": {"text": "（d）组 4", "dx": 46},
  "layer": [
   {"data": {"name": "tr"}, "transform": [{"filter": "datum.p == 'd'"}],
    "mark": {"type": "line", "strokeWidth": 3.5},
    "encoding": {
     "x": {"field": "t", "type": "quantitative", "scale": {"domain": [0, 20.74], "nice": false, "zero": false}, "axis": {"values": [0.86, 5.86, 10.86, 15.86], "grid": true, "domain": false, "ticks": false, "labels": false, "title": "时间(5 s/格)"}},
     "y": {"field": "d", "type": "quantitative", "scale": {"domain": [0, 8], "nice": false, "zero": false}, "axis": {"values": [1, 2, 3, 4, 5, 6, 7], "grid": true, "domain": false, "ticks": false, "labels": false, "title": null}},
     "color": {"field": "ch", "type": "nominal", "scale": {"domain": ["real", "est", "err", "ia"], "range": ["#F4915C", "#7E1419", "#3E8B2A", "#3470B8"]}, "legend": null}}},
   {"data": {"name": "gnd"}, "transform": [{"filter": "datum.p == 'd' && (datum.ch == 'real' || datum.ch == 'est')"}],
    "mark": {"type": "point", "filled": false, "opacity": 1, "size": 400, "strokeWidth": 1.6, "shape": "M0,0H-1.5V1M-2.3,1H-0.7M-2,1.35H-1M-1.75,1.7H-1.25"},
    "encoding": {"x": {"field": "t", "type": "quantitative"}, "y": {"field": "d", "type": "quantitative"}, "color": {"field": "ch", "type": "nominal", "legend": null}}},
   {"data": {"name": "gnd"}, "transform": [{"filter": "datum.p == 'd' && (datum.ch == 'err' || datum.ch == 'ia')"}],
    "mark": {"type": "point", "filled": false, "opacity": 1, "size": 400, "strokeWidth": 1.6, "shape": "M0,0H-1.5V1.8M-2.3,1.8H-0.7M-2,2.15H-1M-1.75,2.5H-1.25"},
    "encoding": {"x": {"field": "t", "type": "quantitative"}, "y": {"field": "d", "type": "quantitative"}, "color": {"field": "ch", "type": "nominal", "legend": null}}},
   {"data": {"name": "sep"}, "transform": [{"filter": "datum.p == 'd' && datum.kind == 'sw'"}],
    "mark": {"type": "rule", "color": "#444", "strokeWidth": 2.2, "strokeDash": [11, 5]},
    "encoding": {"x": {"field": "t", "type": "quantitative"}, "y": {"field": "d1", "type": "quantitative"}, "y2": {"field": "d2"}}},
   {"data": {"name": "sep"}, "transform": [{"filter": "datum.p == 'd' && datum.kind == 'edge'"}],
    "mark": {"type": "rule", "color": "#555", "strokeWidth": 1.5, "strokeDash": [6, 4]},
    "encoding": {"x": {"field": "t", "type": "quantitative"}, "y": {"field": "d1", "type": "quantitative"}, "y2": {"field": "d2"}}},
   {"data": {"name": "arr"}, "transform": [{"filter": "datum.p == 'd'"}],
    "mark": {"type": "rule", "color": "#444", "strokeWidth": 2.5},
    "encoding": {"x": {"field": "t1", "type": "quantitative"}, "x2": {"field": "t2"}, "y": {"field": "d", "type": "quantitative"}}},
   {"data": {"name": "arr"}, "transform": [{"filter": "datum.p == 'd'"}],
    "mark": {"type": "point", "filled": true, "opacity": 1, "color": "#111", "size": 400, "shape": "M0,0L1.6,-0.55L1.15,0L1.6,0.55Z"},
    "encoding": {"x": {"field": "t1", "type": "quantitative"}, "y": {"field": "d", "type": "quantitative"}}},
   {"data": {"name": "arr"}, "transform": [{"filter": "datum.p == 'd'"}],
    "mark": {"type": "point", "filled": true, "opacity": 1, "color": "#111", "size": 400, "shape": "M0,0L-1.6,-0.55L-1.15,0L-1.6,0.55Z"},
    "encoding": {"x": {"field": "t2", "type": "quantitative"}, "y": {"field": "d", "type": "quantitative"}}},
   {"data": {"name": "hdr"}, "transform": [{"filter": "datum.p == 'd'"}],
    "mark": {"type": "text", "font": "Liberation Serif, Noto Sans CJK SC", "fontSize": 33, "align": "center", "baseline": "middle", "color": "#000"},
    "encoding": {"x": {"field": "t", "type": "quantitative"}, "y": {"field": "d", "type": "quantitative"}, "text": {"field": "text"}}},
   {"data": {"name": "lab"}, "transform": [{"filter": "datum.p == 'd' && datum.kind == 'sym'"}],
    "mark": {"type": "text", "font": "Liberation Serif", "fontStyle": "italic", "fontSize": 33, "align": "left", "baseline": "alphabetic", "color": "#000"},
    "encoding": {"x": {"field": "t", "type": "quantitative"}, "y": {"field": "d", "type": "quantitative"}, "text": {"field": "text"}}},
   {"data": {"name": "lab"}, "transform": [{"filter": "datum.p == 'd' && datum.kind == 'sub'"}],
    "mark": {"type": "text", "font": "Liberation Serif", "fontSize": 25, "align": "left", "baseline": "alphabetic", "color": "#000"},
    "encoding": {"x": {"field": "t", "type": "quantitative"}, "y": {"field": "d", "type": "quantitative"}, "text": {"field": "text"}}},
   {"data": {"name": "lab"}, "transform": [{"filter": "datum.p == 'd' && datum.kind == 'txt'"}],
    "mark": {"type": "text", "font": "Liberation Serif, Noto Sans CJK SC", "fontSize": 34, "align": "left", "baseline": "alphabetic", "color": "#000"},
    "encoding": {"x": {"field": "t", "type": "quantitative"}, "y": {"field": "d", "type": "quantitative"}, "text": {"field": "text"}}},
   {"data": {"name": "lead"}, "transform": [{"filter": "datum.p == 'd'"}],
    "mark": {"type": "rule", "color": "#111", "strokeWidth": 1.6},
    "encoding": {"x": {"field": "t1", "type": "quantitative"}, "x2": {"field": "t2"}, "y": {"field": "d1", "type": "quantitative"}, "y2": {"field": "d2"}}}
  ]}
]
}
